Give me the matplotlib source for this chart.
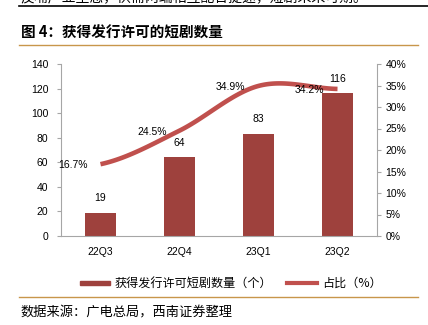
import matplotlib
matplotlib.use("Agg")
import matplotlib.pyplot as plt
import numpy as np

plt.rcParams['font.family'] = ['Liberation Sans', 'Noto Sans CJK SC']

# data
quarters = ['22Q3', '22Q4', '23Q1', '23Q2']
counts = [19, 64, 83, 116]
share = [16.7, 24.5, 34.9, 34.2]
share_labels = ['16.7%', '24.5%', '34.9%', '34.2%']

bar_color = '#9E413D'
line_color = '#C0504D'
axis_color = '#A6A6A6'

W, H = 428, 325
fig = plt.figure(figsize=(W / 100, H / 100), dpi=100)


def fx(px):
    return px / W


def fy(py):
    return 1 - py / H


# cropped body text line at the very top, with its rule
fig.text(fx(20), fy(4), '反哺产业生态，供需两端相互配合提速，短剧未来可期。',
         fontsize=10, va='bottom', ha='left', family=['Noto Sans CJK SC'])
fig.add_artist(plt.Line2D([fx(19), fx(428)], [fy(6), fy(6)], color='black', lw=1.2))

# title and rules
fig.text(fx(21), fy(33), '图 4：获得发行许可的短剧数量', fontsize=10.5, fontweight='bold',
         va='center', ha='left', family=['Noto Sans CJK SC'])
fig.add_artist(plt.Line2D([fx(19), fx(418)], [fy(45), fy(45)], color='#C8964B', lw=1))
fig.add_artist(plt.Line2D([fx(19), fx(418)], [fy(297), fy(297)], color='#C8964B', lw=1))
fig.text(fx(20), fy(313), '数据来源：广电总局，西南证券整理', fontsize=9.5, style='italic',
         va='center', ha='left', family=['Noto Sans CJK SC'])

ax = fig.add_axes([fx(61), fy(236), fx(377) - fx(61), fy(64) - fy(236)])
x = np.arange(len(quarters))
ax.bar(x, counts, width=0.4, color=bar_color, zorder=2)
ax.set_xlim(-0.5, 3.5)
ax.set_ylim(0, 140)
ax.set_yticks(np.arange(0, 141, 20))
ax.set_xticks(x)
ax.set_xticklabels(quarters)
for i, v in enumerate(counts):
    ax.text(i, v + 8, str(v), ha='center', va='bottom', fontsize=7.5)

for s in ['top', 'right']:
    ax.spines[s].set_visible(False)
for s in ['left', 'bottom']:
    ax.spines[s].set_color(axis_color)
ax.tick_params(axis='y', colors=axis_color, labelcolor='black', labelsize=7.5, length=3, pad=6)
ax.tick_params(axis='x', length=0, labelsize=7.5, pad=8)

ax2 = ax.twinx()
ax2.set_ylim(0, 40)
ax2.set_yticks(np.arange(0, 41, 5))
ax2.set_yticklabels([f'{v}%' for v in range(0, 41, 5)])
for s in ['top', 'left', 'bottom']:
    ax2.spines[s].set_visible(False)
ax2.spines['right'].set_color(axis_color)
ax2.tick_params(axis='y', colors=axis_color, labelcolor='black', labelsize=7.5, length=3, pad=3)

# smoothed line (Catmull-Rom through the points, like a smoothed office chart)
p = np.array(share, dtype=float)
ext = np.concatenate([[p[0]], p, [p[-1]]])
xs, ys = [], []
for i in range(len(p) - 1):
    m0 = (ext[i + 2] - ext[i]) / 2
    m1 = (ext[i + 3] - ext[i + 1]) / 2
    t = np.linspace(0, 1, 40)
    h00 = 2 * t**3 - 3 * t**2 + 1
    h10 = t**3 - 2 * t**2 + t
    h01 = -2 * t**3 + 3 * t**2
    h11 = t**3 - t**2
    ys.append(h00 * p[i] + h10 * m0 + h01 * p[i + 1] + h11 * m1)
    xs.append(i + t)
ax2.plot(np.concatenate(xs), np.concatenate(ys), color=line_color, lw=3.3,
         solid_capstyle='butt', zorder=3)

# labels sit to the left of each point
for i, lab in enumerate(share_labels):
    ax2.text(i - 0.35, share[i] - 0.2, lab, ha='center', va='center', fontsize=7.5, zorder=4)

# legend
fig.add_artist(plt.Rectangle((fx(80), fy(285)), fx(110) - fx(80), fy(281) - fy(285),
                             color=bar_color))
fig.text(fx(115), fy(283), '获得发行许可短剧数量（个）', fontsize=8.7, va='center', ha='left',
         family=['Noto Sans CJK SC'])
fig.add_artist(plt.Line2D([fx(287), fx(317)], [fy(283), fy(283)], color=line_color, lw=3))
fig.text(fx(322), fy(283), '占比（%）', fontsize=8.7, va='center', ha='left',
         family=['Noto Sans CJK SC'])

fig.savefig('out.png', dpi=100)
